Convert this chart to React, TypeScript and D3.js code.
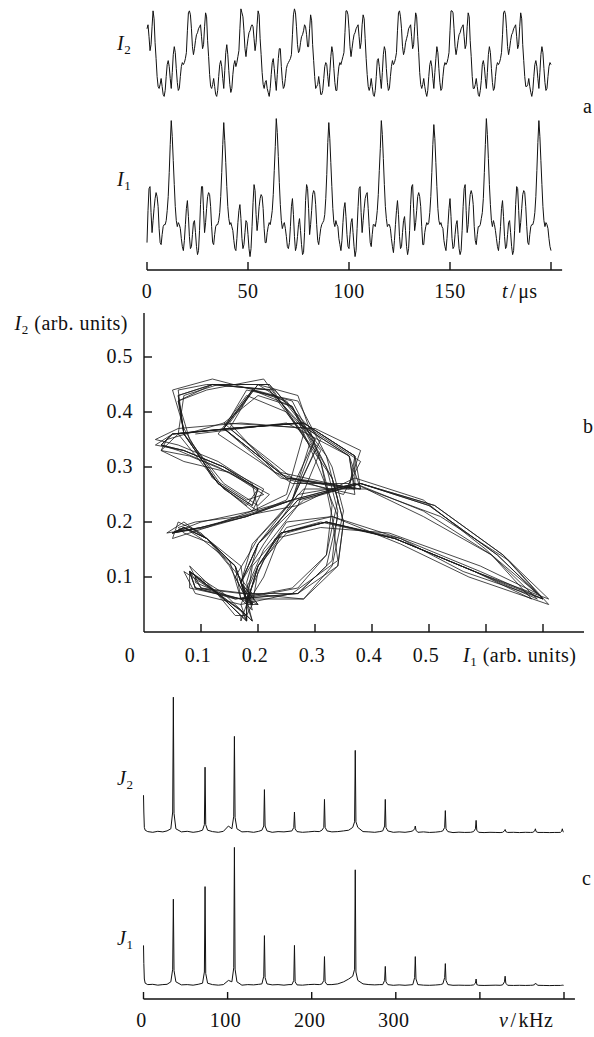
import React from 'react';
import * as d3 from 'd3';

const W = 594;
const H = 1037;
const FONT = '"Liberation Serif", "Times New Roman", serif';

// panel a: samples every 0.5 us, one cycle (I1 spike to I1 spike) = 52 samples
const DT = 0.5;

// I1 (arb. units), read cycle by cycle, t = 0 ... 200 us
const I1_CYCLES: number[][] = [
  [0.09,0.25,0.36,0.37,0.24,0.14,0.20,0.26,0.31,0.34,
   0.32,0.27,0.16,0.09,0.08,0.13,0.17,0.18,0.18,0.20,
   0.25,0.32,0.44,0.58],
  [0.70,0.62,0.50,0.38,0.27,0.20,0.17,0.19,0.18,0.16,
   0.11,0.07,0.05,0.10,0.18,0.26,0.30,0.22,0.12,0.06,
   0.07,0.13,0.19,0.20,0.14,0.07,0.03,0.05,0.15,0.28,
   0.37,0.37,0.25,0.14,0.19,0.26,0.32,0.34,0.33,0.27,
   0.17,0.09,0.08,0.13,0.17,0.18,0.18,0.20,0.24,0.32,
   0.44,0.58],
  [0.69,0.60,0.49,0.37,0.27,0.21,0.18,0.19,0.17,0.15,
   0.10,0.06,0.05,0.11,0.19,0.25,0.28,0.21,0.11,0.06,
   0.08,0.14,0.20,0.19,0.13,0.06,0.02,0.06,0.17,0.29,
   0.38,0.35,0.23,0.15,0.20,0.27,0.31,0.33,0.32,0.26,
   0.16,0.09,0.09,0.14,0.17,0.19,0.18,0.21,0.25,0.33,
   0.45,0.57],
  [0.71,0.64,0.52,0.39,0.28,0.20,0.16,0.18,0.19,0.16,
   0.12,0.07,0.06,0.09,0.17,0.27,0.31,0.23,0.12,0.05,
   0.07,0.12,0.18,0.21,0.15,0.08,0.03,0.04,0.14,0.30,
   0.38,0.36,0.26,0.13,0.18,0.25,0.33,0.35,0.34,0.28,
   0.18,0.10,0.08,0.12,0.16,0.18,0.19,0.20,0.23,0.31,
   0.43,0.59],
  [0.69,0.61,0.49,0.37,0.26,0.19,0.17,0.20,0.18,0.17,
   0.11,0.08,0.05,0.10,0.19,0.26,0.29,0.22,0.13,0.07,
   0.06,0.13,0.19,0.21,0.14,0.07,0.02,0.05,0.16,0.27,
   0.36,0.37,0.24,0.14,0.20,0.26,0.31,0.33,0.34,0.26,
   0.17,0.09,0.07,0.13,0.18,0.18,0.17,0.20,0.25,0.33,
   0.45,0.56],
  [0.70,0.63,0.51,0.38,0.27,0.21,0.17,0.18,0.18,0.16,
   0.11,0.07,0.04,0.10,0.18,0.25,0.30,0.23,0.12,0.06,
   0.07,0.14,0.20,0.22,0.15,0.07,0.03,0.06,0.15,0.28,
   0.37,0.38,0.26,0.15,0.19,0.25,0.32,0.34,0.32,0.27,
   0.17,0.08,0.08,0.14,0.17,0.19,0.18,0.19,0.24,0.32,
   0.44,0.58],
  [0.68,0.61,0.49,0.37,0.26,0.20,0.18,0.19,0.17,0.16,
   0.10,0.07,0.05,0.11,0.18,0.26,0.31,0.22,0.11,0.06,
   0.07,0.13,0.18,0.20,0.13,0.06,0.03,0.05,0.15,0.27,
   0.36,0.38,0.25,0.14,0.18,0.27,0.33,0.35,0.33,0.28,
   0.17,0.10,0.08,0.13,0.17,0.17,0.18,0.21,0.24,0.31,
   0.44,0.58],
  [0.71,0.63,0.51,0.38,0.28,0.20,0.17,0.20,0.18,0.15,
   0.11,0.07,0.05,0.10,0.17,0.26,0.30,0.22,0.12,0.06,
   0.07,0.13,0.19,0.20,0.14,0.07,0.03,0.05,0.15,0.28,
   0.37,0.36,0.25,0.14,0.19,0.26,0.33,0.35,0.34,0.27,
   0.17,0.09,0.08,0.13,0.17,0.18,0.18,0.20,0.24,0.32,
   0.45,0.59],
  [0.70,0.62,0.50,0.38,0.27,0.20,0.17,0.19,0.18,0.16,
   0.11,0.07,0.05],
];

// I2 (arb. units), same samples
const I2_CYCLES: number[][] = [
  [0.36,0.38,0.32,0.25,0.28,0.37,0.45,0.41,0.29,0.21,
   0.12,0.07,0.06,0.08,0.11,0.07,0.03,0.02,0.05,0.12,
   0.18,0.20,0.17,0.11],
  [0.06,0.14,0.23,0.27,0.24,0.16,0.09,0.05,0.06,0.12,
   0.17,0.19,0.18,0.19,0.21,0.24,0.35,0.44,0.45,0.43,
   0.36,0.27,0.23,0.26,0.30,0.33,0.34,0.36,0.37,0.38,
   0.32,0.26,0.28,0.37,0.44,0.42,0.30,0.22,0.13,0.07,
   0.06,0.08,0.11,0.07,0.03,0.02,0.05,0.12,0.18,0.20,
   0.17,0.11],
  [0.06,0.15,0.24,0.28,0.23,0.15,0.08,0.04,0.06,0.13,
   0.18,0.20,0.17,0.19,0.22,0.25,0.36,0.46,0.44,0.42,
   0.35,0.26,0.22,0.27,0.31,0.34,0.35,0.37,0.38,0.37,
   0.31,0.25,0.29,0.38,0.45,0.43,0.31,0.23,0.14,0.08,
   0.06,0.09,0.10,0.06,0.04,0.02,0.06,0.13,0.19,0.21,
   0.16,0.10],
  [0.05,0.13,0.21,0.26,0.26,0.17,0.10,0.06,0.07,0.11,
   0.16,0.18,0.19,0.20,0.21,0.23,0.33,0.43,0.46,0.44,
   0.37,0.28,0.24,0.25,0.29,0.32,0.33,0.35,0.38,0.37,
   0.33,0.27,0.27,0.36,0.43,0.40,0.28,0.20,0.12,0.06,
   0.07,0.08,0.12,0.08,0.03,0.03,0.05,0.11,0.17,0.19,
   0.18,0.12],
  [0.07,0.14,0.22,0.27,0.24,0.16,0.09,0.05,0.05,0.12,
   0.17,0.19,0.18,0.20,0.22,0.24,0.34,0.45,0.45,0.43,
   0.36,0.27,0.22,0.26,0.30,0.33,0.34,0.36,0.37,0.38,
   0.32,0.26,0.29,0.38,0.43,0.41,0.31,0.21,0.13,0.07,
   0.05,0.07,0.11,0.07,0.03,0.02,0.05,0.12,0.20,0.21,
   0.17,0.11],
  [0.06,0.14,0.23,0.27,0.25,0.16,0.09,0.05,0.06,0.12,
   0.17,0.20,0.18,0.19,0.21,0.24,0.35,0.44,0.45,0.42,
   0.36,0.27,0.23,0.25,0.29,0.31,0.33,0.36,0.37,0.38,
   0.32,0.26,0.28,0.37,0.44,0.42,0.32,0.24,0.14,0.08,
   0.06,0.08,0.11,0.07,0.04,0.02,0.05,0.12,0.18,0.20,
   0.17,0.11],
  [0.06,0.14,0.21,0.27,0.24,0.16,0.09,0.05,0.06,0.12,
   0.17,0.19,0.18,0.19,0.21,0.24,0.35,0.45,0.45,0.44,
   0.36,0.27,0.23,0.26,0.30,0.33,0.34,0.36,0.37,0.38,
   0.32,0.26,0.28,0.37,0.44,0.42,0.30,0.22,0.12,0.06,
   0.06,0.08,0.11,0.07,0.03,0.02,0.05,0.10,0.18,0.20,
   0.17,0.11],
  [0.06,0.14,0.23,0.27,0.24,0.16,0.09,0.05,0.06,0.12,
   0.17,0.19,0.18,0.19,0.21,0.24,0.33,0.44,0.45,0.43,
   0.36,0.27,0.23,0.26,0.30,0.33,0.34,0.36,0.37,0.38,
   0.32,0.26,0.28,0.37,0.44,0.41,0.28,0.20,0.12,0.07,
   0.07,0.08,0.11,0.07,0.04,0.02,0.05,0.12,0.18,0.20,
   0.17,0.11],
  [0.06,0.14,0.23,0.27,0.24,0.16,0.09,0.05,0.06,0.12,
   0.17,0.19,0.18],
];

// panel c: frequency grid (kHz), one line per harmonic block
const FREQ = [
  0, 0.4, 1, 2, 5, 11, 17, 23, 28,
  32.5, 34.7, 35.5, 36.3, 38.5, 45, 52, 59, 65,
  70.2, 72.4, 73.2, 74, 76.2, 82, 89, 95, 101,
  105.1, 107.3, 108.1, 108.9, 111.1, 117, 124, 131, 137,
  140.8, 143, 143.8, 144.6, 146.8, 153, 160, 167, 173,
  176.5, 178.7, 179.5, 180.3, 182.5, 189, 196, 203, 209,
  212.2, 214.4, 215.2, 216, 218.2, 224, 231, 238, 244,
  248.8, 251, 251.8, 252.6, 254.8, 261, 268, 275, 281,
  284.5, 286.7, 287.5, 288.3, 290.5, 297, 304, 311, 317,
  320.2, 322.4, 323.2, 324, 326.2, 333, 340, 347, 353,
  355.9, 358.1, 358.9, 359.7, 361.9, 368, 375, 382, 389,
  392.5, 394.7, 395.5, 396.3, 398.5, 405, 412, 419, 424,
  427, 429.2, 430, 430.8, 433, 440, 447, 454, 460,
  463, 465.2, 466, 466.8, 469, 476, 483, 489, 494,
  496, 497.2, 498, 498.8, 499.5,
];

const J2_AMP = [
  0.27, 0.15, 0.04, 0.02, 0.01, 0.005, 0.012, 0.008, 0.015,
  0.03, 0.15, 0.97, 0.14, 0.03, 0.008, 0.012, 0.005, 0.01,
  0.02, 0.06, 0.47, 0.06, 0.02, 0.01, 0.005, 0.012, 0.05,
  0.03, 0.12, 0.69, 0.11, 0.03, 0.008, 0.01, 0.005, 0.012,
  0.02, 0.05, 0.31, 0.05, 0.015, 0.005, 0.01, 0.008, 0.012,
  0.015, 0.04, 0.15, 0.03, 0.01, 0.005, 0.008, 0.012, 0.01,
  0.02, 0.04, 0.24, 0.04, 0.015, 0.008, 0.01, 0.015, 0.02,
  0.04, 0.08, 0.59, 0.08, 0.04, 0.01, 0.008, 0.005, 0.01,
  0.015, 0.05, 0.24, 0.04, 0.015, 0.005, 0.008, 0.005, 0.01,
  0.015, 0.03, 0.05, 0.02, 0.005, 0.008, 0.004, 0.006, 0.01,
  0.015, 0.04, 0.16, 0.03, 0.01, 0.003, 0.006, 0.004, 0.005,
  0.01, 0.03, 0.09, 0.02, 0.005, 0.003, 0.005, 0.004, 0.003,
  0.005, 0.015, 0.025, 0.01, 0.004, 0.005, 0.003, 0.005, 0.004,
  0.005, 0.015, 0.03, 0.01, 0.004, 0.004, 0.003, 0.004, 0.004,
  0.005, 0.012, 0.03, 0.01, 0.008,
];

const J1_AMP = [
  0.29, 0.16, 0.05, 0.02, 0.01, 0.012, 0.006, 0.01, 0.012,
  0.03, 0.12, 0.62, 0.11, 0.03, 0.008, 0.01, 0.006, 0.012,
  0.02, 0.1, 0.71, 0.09, 0.02, 0.01, 0.006, 0.01, 0.04,
  0.03, 0.13, 0.99, 0.12, 0.03, 0.006, 0.01, 0.008, 0.012,
  0.015, 0.07, 0.36, 0.06, 0.015, 0.008, 0.01, 0.006, 0.01,
  0.01, 0.04, 0.29, 0.03, 0.008, 0.006, 0.01, 0.012, 0.01,
  0.015, 0.04, 0.21, 0.03, 0.01, 0.01, 0.015, 0.03, 0.05,
  0.07, 0.12, 0.83, 0.1, 0.04, 0.015, 0.01, 0.008, 0.01,
  0.01, 0.04, 0.14, 0.03, 0.01, 0.005, 0.008, 0.005, 0.008,
  0.01, 0.06, 0.21, 0.05, 0.01, 0.006, 0.005, 0.007, 0.01,
  0.015, 0.06, 0.16, 0.04, 0.01, 0.005, 0.006, 0.005, 0.005,
  0.008, 0.02, 0.05, 0.01, 0.005, 0.004, 0.005, 0.006, 0.005,
  0.008, 0.03, 0.07, 0.02, 0.005, 0.004, 0.005, 0.004, 0.005,
  0.006, 0.01, 0.02, 0.015, 0.005, 0.004, 0.003, 0.004, 0.004,
  0.004, 0.005, 0.006, 0.005, 0.005,
];

// ticks
const T_TICKS = [0, 50, 100, 150, 200];
const T_LABELS = ['0', '50', '100', '150', ''];
const P1_TICKS = [0.1, 0.2, 0.3, 0.4, 0.5, 0.6, 0.7];
const P1_LABELS = ['0.1', '0.2', '0.3', '0.4', '0.5', '', ''];
const P2_TICKS = [0.1, 0.2, 0.3, 0.4, 0.5];
const F_TICKS = [0, 100, 200, 300, 400, 500];
const F_LABELS = ['0', '100', '200', '300', '', ''];

const I1 = I1_CYCLES.flat();
const I2 = I2_CYCLES.flat();
const T = I1.map((_, i) => i * DT);

// scales
const xT = d3.scaleLinear().domain([0, 200]).range([147, 551]);
const yI2 = d3.scaleLinear().domain([0, 0.5]).range([100.4, 0.9]);
const yI1 = d3.scaleLinear().domain([0, 0.5]).range([260.6, 160.6]);

const xP = d3.scaleLinear().domain([0, 0.7]).range([144, 543]);
const yP = d3.scaleLinear().domain([0, 0.5]).range([632, 357]);

const xF = d3.scaleLinear().domain([0, 500]).range([143.5, 564]);
const yJ2 = d3.scaleLinear().domain([0, 1]).range([833, 693]);
const yJ1 = d3.scaleLinear().domain([0, 1]).range([986, 846]);

const line = d3.line<[number, number]>();

const pathI2 = line(T.map((t, i) => [xT(t), yI2(I2[i])]));
const pathI1 = line(T.map((t, i) => [xT(t), yI1(I1[i])]));
const pathPortrait = line(I1.map((v, i) => [xP(v), yP(I2[i])]));
const pathJ2 = line(FREQ.map((f, i) => [xF(f), yJ2(J2_AMP[i])]));
const pathJ1 = line(FREQ.map((f, i) => [xF(f), yJ1(J1_AMP[i])]));

const Sym = ({ x, y, s, sub }: { x: number; y: number; s: string; sub: string }) => (
  <text x={x} y={y}>
    <tspan fontStyle="italic">{s}</tspan>
    <tspan fontSize={13} dy={4}>{sub}</tspan>
  </text>
);

export default function App() {
  const axisY = 270;
  const fAxisY = 999;
  return (
    <svg
      width={W}
      height={H}
      viewBox={`0 0 ${W} ${H}`}
      style={{ position: 'absolute', left: 0, top: 0, display: 'block', background: '#fff' }}
      fontFamily={FONT}
      fontSize={20}
      letterSpacing={0.5}
      fill="#111"
    >
      {/* panel a */}
      <path d={pathI2 || ''} fill="none" stroke="#111" strokeWidth={1} />
      <path d={pathI1 || ''} fill="none" stroke="#111" strokeWidth={1} />
      <line x1={xT(0)} x2={xT(205.5)} y1={axisY} y2={axisY} stroke="#111" strokeWidth={1.4} />
      {T_TICKS.map((t) => (
        <line key={t} x1={xT(t)} x2={xT(t)} y1={axisY} y2={axisY - 8} stroke="#111" strokeWidth={1.4} />
      ))}
      {T_TICKS.map((t, i) => (
        <text key={'tl' + t} x={xT(t)} y={298} textAnchor="middle">{T_LABELS[i]}</text>
      ))}
      <text x={502} y={298}>
        <tspan fontStyle="italic">t</tspan>
        <tspan dx={2}>/</tspan>
        <tspan dx={2}>μs</tspan>
      </text>
      <Sym x={117} y={50} s="I" sub="2" />
      <Sym x={117} y={186} s="I" sub="1" />
      <text x={583} y={113}>a</text>

      {/* panel b */}
      <path d={pathPortrait || ''} fill="none" stroke="#1a1a1a" strokeWidth={0.8} />
      <line x1={xP(0)} x2={xP(0)} y1={yP(0)} y2={yP(0.58)} stroke="#111" strokeWidth={1.4} />
      <line x1={xP(0)} x2={xP(0.772)} y1={yP(0)} y2={yP(0)} stroke="#111" strokeWidth={1.4} />
      {P2_TICKS.map((v) => (
        <line key={'py' + v} x1={xP(0)} x2={xP(0) + 8} y1={yP(v)} y2={yP(v)} stroke="#111" strokeWidth={1.4} />
      ))}
      {P2_TICKS.map((v) => (
        <text key={'pyl' + v} x={133} y={yP(v) + 6} textAnchor="end">{v.toFixed(1)}</text>
      ))}
      {P1_TICKS.map((v) => (
        <line key={'px' + v} x1={xP(v)} x2={xP(v)} y1={yP(0)} y2={yP(0) - 8} stroke="#111" strokeWidth={1.4} />
      ))}
      {P1_TICKS.map((v, i) => (
        <text key={'pxl' + v} x={xP(v) - 3} y={662} textAnchor="middle">{P1_LABELS[i]}</text>
      ))}
      <text x={130} y={662} textAnchor="middle">0</text>
      <text x={128} y={330} textAnchor="end">
        <tspan fontStyle="italic">I</tspan>
        <tspan fontSize={13} dy={4}>2</tspan>
        <tspan dy={-4}> (arb. units)</tspan>
      </text>
      <text x={463} y={662}>
        <tspan fontStyle="italic">I</tspan>
        <tspan fontSize={13} dy={4}>1</tspan>
        <tspan dy={-4}> (arb. units)</tspan>
      </text>
      <text x={583} y={433}>b</text>

      {/* panel c */}
      <path d={pathJ2 || ''} fill="none" stroke="#111" strokeWidth={1} />
      <path d={pathJ1 || ''} fill="none" stroke="#111" strokeWidth={1} />
      <line x1={xF(0)} x2={xF(513)} y1={fAxisY} y2={fAxisY} stroke="#111" strokeWidth={1.4} />
      {F_TICKS.map((f) => (
        <line key={'f' + f} x1={xF(f)} x2={xF(f)} y1={fAxisY} y2={fAxisY - 7} stroke="#111" strokeWidth={1.4} />
      ))}
      {F_TICKS.map((f, i) => (
        <text key={'fl' + f} x={xF(f) - 2} y={1027} textAnchor="middle">{F_LABELS[i]}</text>
      ))}
      <text x={499} y={1027}>
        <tspan fontStyle="italic">ν</tspan>
        <tspan dx={2}>/</tspan>
        <tspan dx={2}>kHz</tspan>
      </text>
      <Sym x={117} y={785} s="J" sub="2" />
      <Sym x={117} y={945} s="J" sub="1" />
      <text x={582} y={885}>c</text>
    </svg>
  );
}
